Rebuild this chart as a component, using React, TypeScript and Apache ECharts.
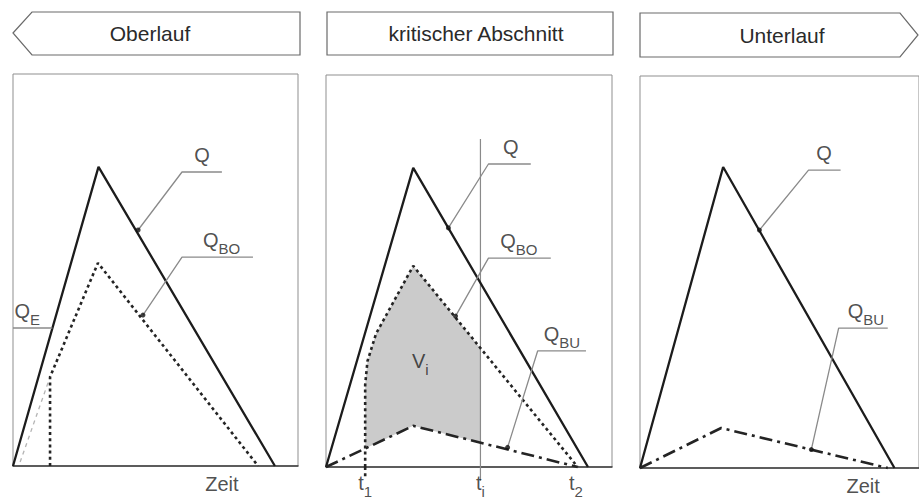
import React, { useEffect, useRef } from "react";
import * as echarts from "echarts";

const FONT = '"Liberation Sans", Arial, Helvetica, sans-serif';

// ---- headers ----
const panelTitles = ["Oberlauf", "kritischer Abschnitt", "Unterlauf"];

// ---- axis domains (time / discharge, arbitrary units) ----
const timeMin = 0;
const timeMax = 10;
const flowMin = 0;
const flowMax = 10;

// ---- panel 1: Oberlauf ----
const qOber = [[0, 0], [3.0, 7.63], [9.19, 0]];
const qboOber = [[1.3, 0], [1.3, 2.27], [2.98, 5.18], [8.6, 0]];
const qeOber = [[0.25, 0.1], [1.3, 2.27]];

// ---- panel 2: kritischer Abschnitt ----
const qKrit = [[0, 0], [3.05, 7.63], [9.16, 0]];
const qboKrit = [[1.37, 0], [1.37, 2.1], [1.45, 2.7], [1.75, 3.4], [3.05, 5.13], [8.8, 0]];
const qbuKrit = [[0, 0], [3.05, 1.05], [8.8, 0]];
const viArea = [[1.37, 0.47], [1.37, 2.1], [1.45, 2.7], [1.75, 3.4], [3.05, 5.13], [5.4, 3.03], [5.4, 0.62], [3.05, 1.05]];
const tTimes = [1.37, 5.4, 8.74];
const tSubs = ["1", "i", "2"];
const tiGuide = [[5.4, -0.35], [5.4, 8.37]];
const t1Extension = [[1.37, 0], [1.37, -0.25]];

// ---- panel 3: Unterlauf ----
const qUnter = [[0, 0], [2.98, 7.68], [9.12, 0]];
const qbuUnter = [[0, 0], [2.91, 1.02], [8.88, 0]];

// ---- annotation leaders (anchor on curve, elbow, underline end, label x) ----
const leadersOber = [
  { main: "Q", sub: "", anchor: [4.39, 6.02], elbow: [5.93, 7.5], end: [7.33, 7.5], textX: 6.63, dot: true },
  { main: "Q", sub: "BO", anchor: [4.56, 3.85], elbow: [5.93, 5.33], end: [8.42, 5.33], textX: 7.32, dot: true },
  { main: "Q", sub: "E", anchor: [1.38, 3.52], elbow: [1.38, 3.52], end: [0, 3.52], textX: 0.5, dot: false },
];
const leadersKrit = [
  { main: "Q", sub: "", anchor: [4.28, 6.1], elbow: [5.68, 7.73], end: [7.16, 7.73], textX: 6.46, dot: true },
  { main: "Q", sub: "BO", anchor: [4.53, 3.85], elbow: [5.68, 5.33], end: [7.86, 5.33], textX: 6.74, dot: true },
  { main: "Q", sub: "BU", anchor: [6.35, 0.5], elbow: [7.4, 2.96], end: [9.09, 2.96], textX: 8.25, dot: true },
];
const leadersUnter = [
  { main: "Q", sub: "", anchor: [4.28, 6.07], elbow: [6.04, 7.6], end: [7.19, 7.6], textX: 6.6, dot: true },
  { main: "Q", sub: "BU", anchor: [6.14, 0.47], elbow: [7.12, 3.57], end: [8.88, 3.57], textX: 8.1, dot: true },
];
const viLabel = { main: "V", sub: "i", at: [3.3, 2.63] };
const zeitLabels = [
  { grid: 0, x: 7.33 },
  { grid: 2, x: 8.0 },
];

const INK = "#1c1c1c";
const styleQ = { color: INK, width: 2.3 };
const styleQBO = { color: "#242424", width: 2.6, type: [3, 3.2] };
const styleQBU = { color: "#242424", width: 2.6, type: [13, 5, 3, 5] };
const styleQE = { color: "#b4b4b4", width: 1.3, type: [4, 4] };
const styleLeader = { color: "#8a8a8a", width: 1.3 };

const rich = {
  m: { fontFamily: FONT, fontSize: 20, color: "#222", verticalAlign: "bottom", padding: [0, 0, 6, 0] },
  s: { fontFamily: FONT, fontSize: 15, color: "#222", verticalAlign: "bottom" },
};
const fmt = (main: string, sub: string) => (sub ? `{m|${main}}{s|${sub}}` : `{m|${main}}`);

function lineSeries(gi: number, data: number[][], lineStyle: any, z = 3) {
  return {
    type: "line",
    xAxisIndex: gi,
    yAxisIndex: gi,
    data,
    symbol: "none",
    clip: false,
    silent: true,
    lineStyle,
    z,
  };
}

function leaderSeries(gi: number, leaders: any[]) {
  const out: any[] = [];
  leaders.forEach((l) => {
    out.push(lineSeries(gi, [l.anchor, l.elbow, l.end], styleLeader, 4));
  });
  out.push({
    type: "scatter",
    xAxisIndex: gi,
    yAxisIndex: gi,
    silent: true,
    clip: false,
    symbol: "circle",
    symbolSize: 5,
    itemStyle: { color: "#111" },
    data: leaders.filter((l) => l.dot).map((l) => l.anchor),
    z: 6,
  });
  out.push({
    type: "scatter",
    xAxisIndex: gi,
    yAxisIndex: gi,
    silent: true,
    clip: false,
    symbolSize: 0,
    data: leaders.map((l) => ({
      value: [l.textX, l.end[1]],
      label: { formatter: fmt(l.main, l.sub) },
    })),
    label: { show: true, position: "top", distance: 1, rich },
    z: 6,
  });
  return out;
}

export default function App() {
  const ref = useRef<HTMLDivElement>(null);

  useEffect(() => {
    if (!ref.current) return;
    const chart = echarts.init(ref.current, undefined, { renderer: "svg" });

    const grids = [
      { left: 13, top: 74, width: 285, height: 392 },
      { left: 326, top: 75, width: 286, height: 392 },
      { left: 640, top: 76, width: 285, height: 392 },
    ];

    const series: any[] = [];
    // panel 1
    series.push(lineSeries(0, qeOber, styleQE, 2));
    series.push(lineSeries(0, qOber, styleQ));
    series.push(lineSeries(0, qboOber, styleQBO));
    series.push(...leaderSeries(0, leadersOber));

    // panel 2
    series.push({
      type: "custom",
      xAxisIndex: 1,
      yAxisIndex: 1,
      silent: true,
      data: viArea,
      encode: { x: 0, y: 1 },
      z: 1,
      renderItem: (params: any, api: any) => {
        if (params.dataIndex !== 0) return null;
        return {
          type: "polygon",
          shape: { points: viArea.map((p) => api.coord(p)) },
          style: { fill: "#cbcbcb", stroke: "none" },
        };
      },
    });
    series.push(lineSeries(1, tiGuide, { color: "#8a8a8a", width: 1.2 }, 2));
    series.push(lineSeries(1, t1Extension, styleQBO));
    series.push(lineSeries(1, qKrit, styleQ));
    series.push(lineSeries(1, qboKrit, styleQBO));
    series.push(lineSeries(1, qbuKrit, styleQBU));
    series.push(...leaderSeries(1, leadersKrit));
    series.push({
      type: "scatter",
      xAxisIndex: 1,
      yAxisIndex: 1,
      silent: true,
      clip: false,
      symbolSize: 0,
      data: [{ value: viLabel.at, label: { formatter: fmt(viLabel.main, viLabel.sub) } }],
      label: { show: true, position: "inside", rich },
      z: 6,
    });
    series.push({
      type: "scatter",
      xAxisIndex: 1,
      yAxisIndex: 1,
      silent: true,
      clip: false,
      symbolSize: 0,
      data: tTimes.map((t, i) => ({ value: [t, 0], label: { formatter: `{m|t}{s|${tSubs[i]}}` } })),
      label: { show: true, position: "bottom", distance: 6, rich },
      z: 6,
    });

    // panel 3
    series.push(lineSeries(2, qUnter, styleQ));
    series.push(lineSeries(2, qbuUnter, styleQBU));
    series.push(...leaderSeries(2, leadersUnter));

    zeitLabels.forEach((zl) => {
      series.push({
        type: "scatter",
        xAxisIndex: zl.grid,
        yAxisIndex: zl.grid,
        silent: true,
        clip: false,
        symbolSize: 0,
        data: [{ value: [zl.x, 0], label: { formatter: "{z|Zeit}" } }],
        label: {
          show: true,
          position: "bottom",
          distance: 8,
          rich: { z: { fontFamily: FONT, fontSize: 20, color: "#222" } },
        },
        z: 6,
      });
    });

    const headerText = (text: string, x: number, y: number) => ({
      type: "text",
      x,
      y,
      z: 20,
      style: {
        text,
        fill: "#2a2a2a",
        font: `21px ${FONT}`,
        textAlign: "center",
        textVerticalAlign: "middle",
      },
    });

    chart.setOption({
      animation: false,
      backgroundColor: "#ffffff",
      grid: grids.map((g) => ({
        ...g,
        show: true,
        borderColor: "#8f8f8f",
        borderWidth: 1,
        backgroundColor: "transparent",
      })),
      xAxis: grids.map((_, i) => ({
        type: "value",
        gridIndex: i,
        min: timeMin,
        max: timeMax,
        axisLine: { show: true, onZero: false, lineStyle: { color: "#3a3a3a", width: 1.5 } },
        axisTick: { show: false },
        axisLabel: { show: false },
        splitLine: { show: false },
      })),
      yAxis: grids.map((_, i) => ({
        type: "value",
        gridIndex: i,
        min: flowMin,
        max: flowMax,
        show: false,
        splitLine: { show: false },
      })),
      graphic: [
        {
          type: "polygon",
          z: 10,
          shape: { points: [[13, 33], [32, 12], [300, 12], [300, 55], [32, 55]] },
          style: { fill: "#ffffff", stroke: "#6a6a6a", lineWidth: 1.2 },
        },
        {
          type: "rect",
          z: 10,
          shape: { x: 327, y: 12, width: 286, height: 43 },
          style: { fill: "#ffffff", stroke: "#6a6a6a", lineWidth: 1.2 },
        },
        {
          type: "polygon",
          z: 10,
          shape: { points: [[640, 13], [900, 13], [918, 35], [900, 57], [640, 57]] },
          style: { fill: "#ffffff", stroke: "#6a6a6a", lineWidth: 1.2 },
        },
        headerText(panelTitles[0], 150, 33),
        headerText(panelTitles[1], 476, 33),
        headerText(panelTitles[2], 782, 35),
      ],
      series,
    });

    return () => chart.dispose();
  }, []);

  return (
    <div
      ref={ref}
      style={{ position: "absolute", left: 0, top: 0, width: 919, height: 502 }}
    />
  );
}
